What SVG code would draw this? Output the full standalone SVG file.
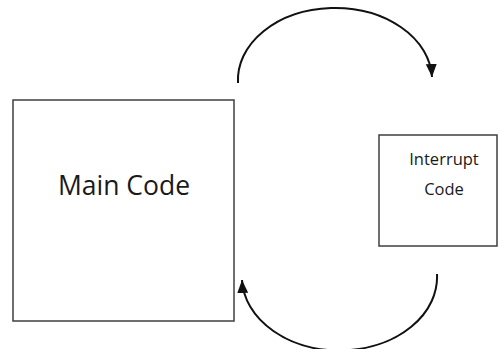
<svg xmlns="http://www.w3.org/2000/svg" width="499" height="349" viewBox="0 0 499 349">
  <style>
    .box { fill: #ffffff; stroke: #3f3f3f; stroke-width: 1.5; }
    .label { font-family: "Open Sans", "Noto Sans", "Liberation Sans", sans-serif; fill: #1a1a1a; text-anchor: middle; }
    .flow { fill: none; stroke: #111111; stroke-width: 2; }
  </style>
  <defs>
    <marker id="arrow" markerUnits="userSpaceOnUse" markerWidth="14" markerHeight="12" refX="13" refY="5.5" orient="auto">
      <path d="M0,0 L13,5.5 L0,11 Z" fill="#111111"/>
    </marker>
  </defs>
  <rect width="499" height="349" fill="#ffffff"/>

  <g id="main-code">
    <rect class="box" x="13" y="100" width="221" height="221"/>
    <text class="label" x="124" y="195" font-size="26.5">Main Code</text>
  </g>

  <g id="interrupt-code">
    <rect class="box" x="379" y="135" width="118" height="111"/>
    <text class="label" x="444" y="165" font-size="16.5">Interrupt</text>
    <text class="label" x="444" y="195" font-size="16.5">Code</text>
  </g>

  <g id="connectors">
    <path class="flow" d="M238,83 A97,72 0 0 1 432,77" marker-end="url(#arrow)"/>
    <path class="flow" d="M437,274 A97,73 0 0 1 242,280" marker-end="url(#arrow)"/>
  </g>
</svg>
